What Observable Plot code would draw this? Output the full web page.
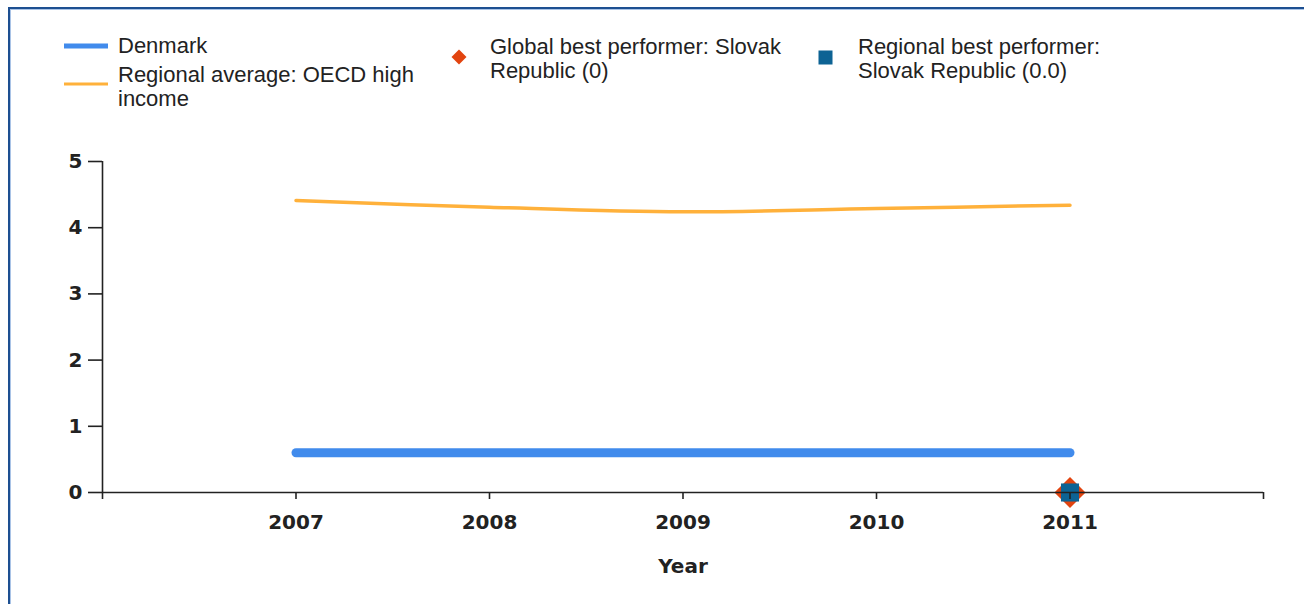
<!DOCTYPE html>
<html>
<head>
<meta charset="utf-8">
<script src="https://cdn.jsdelivr.net/npm/d3@7"></script>
<script src="https://cdn.jsdelivr.net/npm/@observablehq/plot@0.6"></script>
<style>
  html, body { margin: 0; padding: 0; background: #fff; width: 1304px; height: 604px; overflow: hidden; }
  #wrap { position: relative; width: 1304px; height: 604px; }
  .bdr-dark { position: absolute; background: #1d4f91; }
  .bdr-light { position: absolute; background: #a9c3e6; }
  .lg { position: absolute; font-family: "Liberation Sans", Arial, sans-serif; font-size: 22px; line-height: 24px; color: #222; white-space: nowrap; }
  .sw { position: absolute; }
  #chart { position: absolute; left: 0; top: 140px; }
</style>
</head>
<body>
<div id="wrap">
  <div class="bdr-dark" style="left:8px; top:7px; width:1296px; height:2px;"></div>
  <div class="bdr-dark" style="left:8px; top:7px; width:2px; height:597px;"></div>
  <div class="bdr-light" style="left:10px; top:9px; width:1294px; height:1px;"></div>
  <div class="bdr-light" style="left:10px; top:9px; width:1px; height:595px;"></div>
  <div id="legend"></div>
  <div id="chart"></div>
</div>
<script>
// ---- data ----
const years = [2007, 2008, 2009, 2010, 2011];
const denmark = [0.6, 0.6, 0.6, 0.6, 0.6];
const regionalAverage = [4.41, 4.31, 4.24, 4.29, 4.34];
const globalBestYear = [2011];
const globalBestValue = [0];
const regionalBestYear = [2011];
const regionalBestValue = [0.0];
const xTicks = [2006, 2007, 2008, 2009, 2010, 2011, 2012];
const yTicks = [0, 1, 2, 3, 4, 5];

const seriesNames = ["Denmark", "Regional average: OECD high\nincome", "Global best performer: Slovak\nRepublic (0)", "Regional best performer:\nSlovak Republic (0.0)"];
const colors = ["#418bec", "#ffb13b", "#e2440f", "#0d6394"];

const denmarkData = years.map((y, i) => ({year: y, value: denmark[i]}));
const avgData = years.map((y, i) => ({year: y, value: regionalAverage[i]}));
const globalData = globalBestYear.map((y, i) => ({year: y, value: globalBestValue[i]}));
const regionalData = regionalBestYear.map((y, i) => ({year: y, value: regionalBestValue[i]}));

// ---- legend ----
const legend = document.getElementById("legend");
const legendLayout = [
  {sw: `<svg class="sw" style="left:64px;top:41px" width="44" height="10"><line x1="0" x2="44" y1="5" y2="5" stroke="${colors[0]}" stroke-width="5"/></svg>`, left: 118, top: 34},
  {sw: `<svg class="sw" style="left:64px;top:80px" width="44" height="8"><line x1="0" x2="44" y1="4" y2="4" stroke="${colors[1]}" stroke-width="3"/></svg>`, left: 118, top: 63},
  {sw: `<svg class="sw" style="left:451px;top:49px" width="16" height="16"><path d="M8,0.5L15.5,8L8,15.5L0.5,8Z" fill="${colors[2]}"/></svg>`, left: 490, top: 35},
  {sw: `<svg class="sw" style="left:818px;top:50px" width="15" height="15"><rect x="0.5" y="0.5" width="14" height="14" fill="${colors[3]}"/></svg>`, left: 858, top: 35}
];
legendLayout.forEach((l, i) => {
  legend.insertAdjacentHTML("beforeend", l.sw);
  const d = document.createElement("div");
  d.className = "lg";
  d.style.left = l.left + "px";
  d.style.top = l.top + "px";
  d.innerHTML = seriesNames[i].split("\n").join("<br>");
  legend.appendChild(d);
});

// ---- chart ----
const axisFont = {fontFamily: "DejaVu Sans", fontWeight: "bold", fontSize: 20, fill: "#222"};
const plot = Plot.plot({
  width: 1304,
  height: 464,
  marginTop: 21,
  marginBottom: 112,
  marginLeft: 102,
  marginRight: 41,
  style: {fontFamily: "DejaVu Sans", fontSize: "20px", fontWeight: "bold", color: "#222", background: "transparent"},
  x: {domain: [2006, 2012]},
  y: {domain: [0, 5]},
  marks: [
    Plot.line(avgData, {x: "year", y: "value", stroke: colors[1], strokeWidth: 3.5, curve: "catmull-rom"}),
    Plot.line(denmarkData, {x: "year", y: "value", stroke: colors[0], strokeWidth: 9, strokeLinecap: "round"}),
    Plot.dot(globalData, {x: "year", y: "value", symbol: "diamond2", r: 14, fill: colors[2], stroke: null}),
    Plot.dot(regionalData, {x: "year", y: "value", symbol: "square2", r: 11.5, fill: colors[3], stroke: null}),
    Plot.ruleX([2006], {stroke: "#222", strokeWidth: 1.6}),
    Plot.ruleY([0], {stroke: "#222", strokeWidth: 1.6}),
    Plot.axisY({ticks: yTicks, tickSize: 14, tickPadding: 6, tickFormat: d => String(d), label: null, stroke: "#222", strokeWidth: 1.6, ...axisFont}),
    Plot.axisX({ticks: xTicks, tickSize: 7, tickPadding: 15, stroke: "#222", strokeWidth: 1.6,
      tickFormat: d => (d === 2006 || d === 2012) ? "" : String(d),
      label: "Year", labelAnchor: "center", labelArrow: "none", labelOffset: 80, ...axisFont})
  ]
});
document.getElementById("chart").appendChild(plot);
</script>
</body>
</html>
